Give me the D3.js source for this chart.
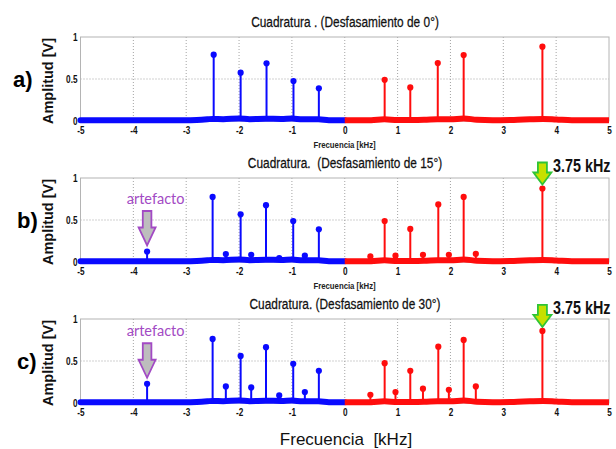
<!DOCTYPE html>
<html>
<head>
<meta charset="utf-8">
<script src="https://cdn.jsdelivr.net/npm/d3@7"></script>
<style>
  html, body { margin: 0; padding: 0; background: #fff; }
  svg { display: block; }
</style>
</head>
<body>
<svg id="chart" width="616" height="449"></svg>
<script>
// ---- data -------------------------------------------------------------
const panelTags = ["a)", "b)", "c)"];
const panelTitles = [
  "Cuadratura . (Desfasamiento de 0°)",
  "Cuadratura.  (Desfasamiento de 15°)",
  "Cuadratura. (Desfasamiento de 30°)"
];
const xTicks = [-5, -4, -3, -2, -1, 0, 1, 2, 3, 4, 5];
const xTickLabels = ["-5", "-4", "-3", "-2", "-1", "0", "1", "2", "3", "4", "5"];
const yTicks = [0, 0.5, 1];
const yTickLabels = ["0", "0.5", "1"];

// spectral lines, negative side (blue) and positive side (red), kHz / V
const negFreqA = [-2.48, -1.97, -1.48, -0.97, -0.49];
const negAmpA  = [0.79, 0.575, 0.687, 0.476, 0.39];
const posFreqA = [0.755, 1.24, 1.76, 2.25, 3.74];
const posAmpA  = [0.49, 0.40, 0.69, 0.785, 0.885];

const negFreqB = [-3.74, -2.5, -2.25, -1.97, -1.77, -1.49, -1.24, -0.975, -0.755, -0.49];
const negAmpB  = [0.125, 0.775, 0.095, 0.567, 0.086, 0.677, 0.047, 0.488, 0.075, 0.39];
const posFreqB = [0.485, 0.755, 0.96, 1.24, 1.48, 1.77, 1.97, 2.25, 2.48, 3.74];
const posAmpB  = [0.066, 0.488, 0.075, 0.394, 0.086, 0.685, 0.086, 0.775, 0.098, 0.875];

const negFreqC = [-3.74, -2.5, -2.25, -1.97, -1.77, -1.49, -1.24, -0.975, -0.755, -0.49];
const negAmpC  = [0.229, 0.763, 0.197, 0.561, 0.185, 0.664, 0.09, 0.466, 0.13, 0.383];
const posFreqC = [0.485, 0.755, 0.96, 1.24, 1.48, 1.77, 1.97, 2.25, 2.48, 3.74];
const posAmpC  = [0.098, 0.474, 0.13, 0.383, 0.17, 0.671, 0.158, 0.751, 0.197, 0.858];

// noise floor envelope
const floorNegFreq = [-5, -3.0, -2.8, -2.6, -2.5, -2.3, -2.0, -1.8, -1.5, -1.2, -1.0, -0.8, -0.5, -0.3, 0];
const floorNegAmp  = [0.008, 0.008, 0.012, 0.02, 0.025, 0.022, 0.03, 0.022, 0.026, 0.025, 0.03, 0.02, 0.02, 0.01, 0.008];
const floorPosFreq = [0, 0.5, 0.75, 1.0, 1.5, 1.75, 2.0, 2.25, 2.5, 2.8, 3.2, 3.5, 3.75, 4.0, 4.3, 5];
const floorPosAmp  = [0.008, 0.01, 0.02, 0.012, 0.014, 0.022, 0.02, 0.03, 0.015, 0.01, 0.012, 0.02, 0.025, 0.018, 0.008, 0.008];

// annotated lines
const artifactFreq = -3.74;
const markedFreq = 3.74;
const markedLabel = "3.75 kHz";
const artifactLabel = "artefacto";

// ---- layout -----------------------------------------------------------
const svg = d3.select("#chart");
const plotLeft = 80.5, plotRight = 609;
const plotTops = [37, 178, 319];
const plotH = 84;
const BLUE = "#0a0aff", RED = "#ff0d0d";
const SANS = "'Liberation Sans', Arial, sans-serif";
const SQUEEZE = 0.82;   // condensed look for the axis typography

const x = d3.scaleLinear().domain([-5, 5]).range([plotLeft, plotRight]);

// condensed text anchored at (tx, ty)
function narrowText(parent, tx, ty, str, size, weight, anchor, fill) {
  return parent.append("text")
    .attr("transform", `translate(${tx},${ty}) scale(${SQUEEZE},1)`)
    .attr("text-anchor", anchor).attr("font-family", SANS)
    .attr("font-weight", weight).attr("font-size", size)
    .attr("fill", fill).style("white-space", "pre").text(str);
}

const panels = [
  { neg: [negFreqA, negAmpA], pos: [posFreqA, posAmpA], artifact: false, marked: false, xlabel: true },
  { neg: [negFreqB, negAmpB], pos: [posFreqB, posAmpB], artifact: true, marked: true, xlabel: true },
  { neg: [negFreqC, negAmpC], pos: [posFreqC, posAmpC], artifact: true, marked: true, xlabel: false }
];

function zip(f, a) { return f.map((v, i) => ({ f: v, a: a[i] })); }

panels.forEach((p, i) => {
  const top = plotTops[i];
  const y = d3.scaleLinear().domain([0, 1]).range([top + plotH, top]);
  const g = svg.append("g");

  // grid
  g.append("g").selectAll("line")
    .data(xTicks.slice(1, -1)).join("line")
    .attr("x1", d => x(d)).attr("x2", d => x(d))
    .attr("y1", top).attr("y2", top + plotH)
    .attr("stroke", "#9a9a9a").attr("stroke-width", 0.9)
    .attr("stroke-dasharray", "1,2");
  g.append("g").selectAll("line")
    .data([0.5]).join("line")
    .attr("x1", plotLeft).attr("x2", plotRight)
    .attr("y1", d => y(d)).attr("y2", d => y(d))
    .attr("stroke", "#9a9a9a").attr("stroke-width", 0.9)
    .attr("stroke-dasharray", "1,2");

  // frame
  g.append("rect")
    .attr("x", plotLeft).attr("y", top)
    .attr("width", plotRight - plotLeft).attr("height", plotH)
    .attr("fill", "none").attr("stroke", "#b4b4b4").attr("stroke-width", 1);

  // axes
  const xAxis = d3.axisBottom(x).tickValues(xTicks).tickSize(0).tickPadding(6)
    .tickFormat((d, k) => xTickLabels[k]);
  const xa = g.append("g").attr("transform", `translate(0,${top + plotH})`).call(xAxis);
  xa.select(".domain").remove();
  xa.selectAll("text").attr("font-family", SANS).attr("font-weight", "bold")
    .attr("font-size", 10).attr("fill", "#111")
    .attr("transform", `scale(${SQUEEZE},1)`);

  const yAxis = d3.axisLeft(y).tickValues(yTicks).tickSize(0).tickPadding(3)
    .tickFormat((d, k) => yTickLabels[k]);
  const ya = g.append("g").attr("transform", `translate(${plotLeft},0)`).call(yAxis);
  ya.select(".domain").remove();
  ya.selectAll("text").attr("font-family", SANS).attr("font-weight", "bold")
    .attr("font-size", 10).attr("fill", "#111")
    .attr("x", -3 / SQUEEZE)
    .attr("transform", `scale(${SQUEEZE},1)`);

  // noise floor
  const line = d3.line().x(d => x(d.f)).y(d => y(d.a)).curve(d3.curveMonotoneX);
  g.append("path").datum(zip(floorNegFreq, floorNegAmp))
    .attr("d", line).attr("fill", "none").attr("stroke", BLUE)
    .attr("stroke-width", 6).attr("stroke-linecap", "round");
  g.append("path").datum(zip(floorPosFreq, floorPosAmp))
    .attr("d", line).attr("fill", "none").attr("stroke", RED)
    .attr("stroke-width", 6).attr("stroke-linecap", "butt");

  // stems
  [[p.neg, BLUE], [p.pos, RED]].forEach(([s, col]) => {
    const pts = zip(s[0], s[1]);
    g.append("g").selectAll("line").data(pts).join("line")
      .attr("x1", d => x(d.f)).attr("x2", d => x(d.f))
      .attr("y1", y(0)).attr("y2", d => y(d.a))
      .attr("stroke", col).attr("stroke-width", 2);
    g.append("g").selectAll("circle").data(pts).join("circle")
      .attr("cx", d => x(d.f)).attr("cy", d => y(d.a)).attr("r", 3.1)
      .attr("fill", col);
  });

  // title
  narrowText(svg, 345, top - 10.5, panelTitles[i], 14.5, "normal", "middle", "#111")
    .attr("stroke", "#111").attr("stroke-width", 0.25);

  // small x label
  if (p.xlabel) {
    narrowText(svg, 344.5, top + plotH + 26.5, "Frecuencia [kHz]", 9.5, "bold", "middle", "#222");
  }

  // y label
  svg.append("text")
    .attr("transform", `translate(53,${top + plotH / 2 + 2}) rotate(-90)`)
    .attr("text-anchor", "middle").attr("font-family", SANS)
    .attr("font-weight", "bold").attr("font-size", 14.5).attr("fill", "#111")
    .text("Amplitud [V]");

  // panel tag
  svg.append("text").attr("x", 13 + (i > 0 ? 4 : 0)).attr("y", top + plotH / 2 + 8)
    .attr("font-family", SANS)
    .attr("font-weight", "bold").attr("font-size", 22).attr("fill", "#000")
    .text(panelTags[i]);

  // arrow pointing down at a spectral line
  function arrow(cx, tipY, len, headLen, halfShaft, halfHead, fill, stroke) {
    const t = tipY - len, h = tipY - headLen;
    const pts = [[cx - halfShaft, t], [cx + halfShaft, t], [cx + halfShaft, h], [cx + halfHead, h],
                 [cx, tipY], [cx - halfHead, h], [cx - halfShaft, h]];
    svg.append("path").attr("d", "M" + pts.map(q => q.join(",")).join("L") + "Z")
      .attr("fill", fill).attr("stroke", stroke).attr("stroke-width", 1.8)
      .attr("stroke-linejoin", "miter");
    return t;
  }

  if (p.artifact) {
    const a = zip(p.neg[0], p.neg[1]).find(d => d.f === artifactFreq);
    const tip = y(a.a) - 6;
    const t = arrow(x(a.f), tip, 34.5, 18, 4.3, 8.5, "#bdbdbd", "#a24ac4");
    svg.append("text").attr("x", x(a.f) + 8.5).attr("y", t - 7)
      .attr("text-anchor", "middle").attr("font-family", "Lato, 'Open Sans', sans-serif")
      .attr("font-size", 14.5).attr("fill", "#a24ac4").text(artifactLabel);
  }
  if (p.marked) {
    const m = zip(p.pos[0], p.pos[1]).find(d => d.f === markedFreq);
    const tip = y(m.a) - 4;
    const t = arrow(x(m.f), tip, 22, 12, 4.5, 9, "#c6e000", "#2fc436");
    narrowText(svg, 553, t + 9, markedLabel, 17.5, "bold", "start", "#111");
  }
});

// shared x label
svg.append("text").attr("x", 346).attr("y", 445)
  .attr("text-anchor", "middle").attr("font-family", SANS)
  .attr("font-size", 17).attr("fill", "#111")
  .style("white-space", "pre").text("Frecuencia  [kHz]");
</script>
</body>
</html>
